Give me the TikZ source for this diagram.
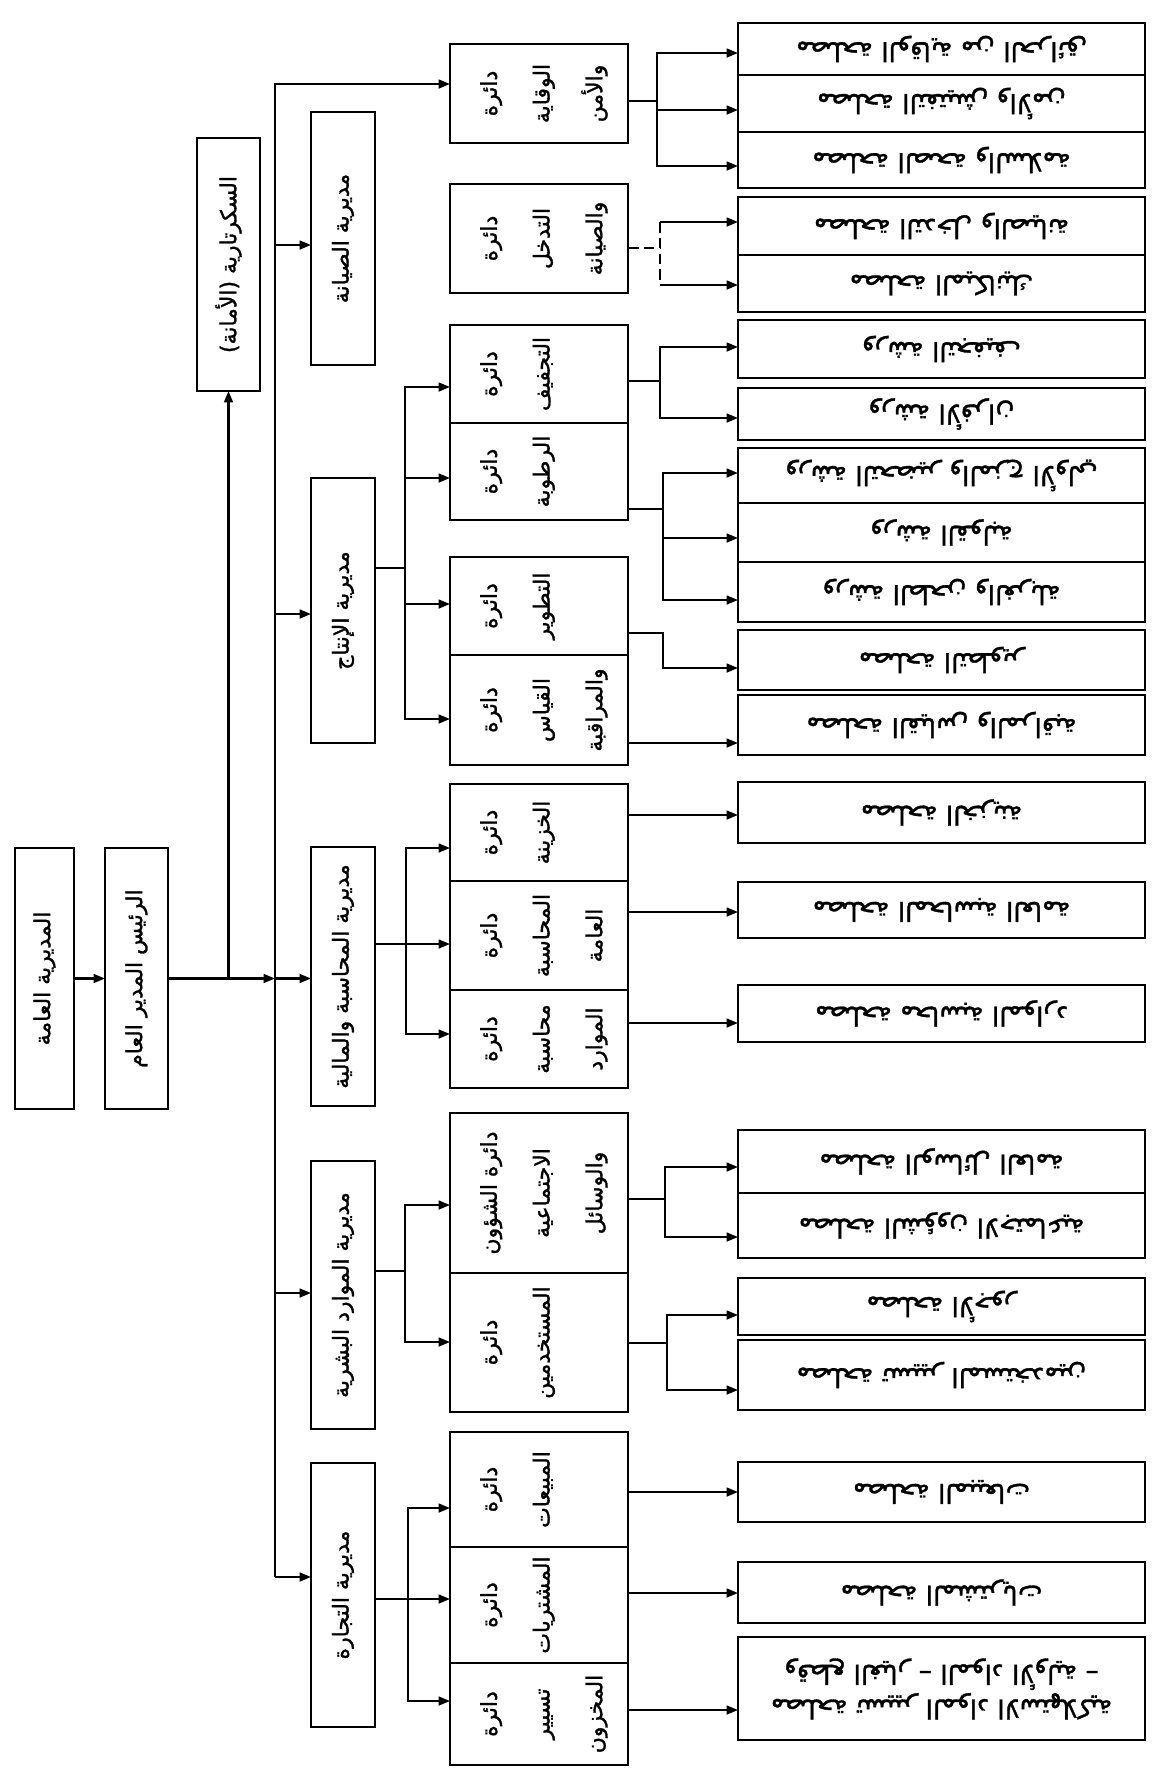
\documentclass[tikz,border=0pt]{standalone}
\usepackage{fontspec}
\usepackage{graphicx}
\usetikzlibrary{arrows.meta}
\TeXXeTstate=1
\newfontfamily\arabicfont[Script=Arabic,FakeBold=1.3]{DejaVu Sans}
\newcommand\artxt[1]{{\arabicfont\beginR #1\endR}}
\newcommand\vlab[1]{\rotatebox{90}{\artxt{#1}}}
\newcommand\vstack[3]{\rotatebox{90}{\renewcommand\arraystretch{2.0}\begin{tabular}{@{}c@{}}\artxt{#1}\\\artxt{#2}\\\artxt{#3}\end{tabular}}}
\newcommand\ulab[1]{\rotatebox{180}{\artxt{#1}}}
\newcommand\bx[7]{\node[box,#6,minimum width={(#4-#2)*0.02cm},minimum height={(#5-#3)*0.02cm}] (#1) at ({(#2+#4)/2},{(#3+#5)/2}) {#7};}
\begin{document}
\begin{tikzpicture}[x=0.02cm, y=-0.02cm, line width=1.3pt,
  box/.style={draw, line width=1.3pt, inner sep=0pt, outer sep=0pt, font=\fontsize{12.5}{15}\selectfont},
  rbox/.style={font=\fontsize{15}{18}\selectfont},
  arr/.style={-{Triangle[length=6.5pt,width=5pt]}},
  arrboth/.style={{Triangle[length=6.5pt,width=5pt]}-{Triangle[length=6.5pt,width=5pt]}},
  dsh/.style={dash pattern=on 6pt off 3pt}]
\fill[white] (0,0) rectangle (1160,1769);
\useasboundingbox (0,0) rectangle (1160,1769);

% left column
\bx{root}{15}{848}{74}{1109}{}{\vlab{المديرية العامة}}
\bx{pres}{105}{848}{168}{1109}{}{\vlab{الرئيس المدير العام}}
\bx{sec}{197}{138}{260}{391}{}{\vlab{السكرتارية (الأمانة)}}
\bx{dsiy}{311}{112}{375}{365}{}{\vlab{مديرية الصيانة}}
\bx{dint}{311}{478}{375}{743}{}{\vlab{مديرية الإنتاج}}
\bx{dmal}{311}{847}{375}{1106}{}{\vlab{مديرية المحاسبة والمالية}}
\bx{dhr}{311}{1161}{375}{1429}{}{\vlab{مديرية الموارد البشرية}}
\bx{dtij}{311}{1463}{375}{1727}{}{\vlab{مديرية التجارة}}

% departments
\bx{wiq}{450}{44}{628}{143}{}{\vstack{دائرة}{الوقاية}{والأمن}}
\bx{tad}{450}{184}{628}{293}{}{\vstack{دائرة}{التدخل}{والصيانة}}
\bx{taj}{450}{325}{628}{423}{}{\vstack{دائرة}{التجفيف}{}}
\bx{rut}{450}{423}{628}{520}{}{\vstack{دائرة}{الرطوبة}{}}
\bx{tat}{450}{557}{628}{655}{}{\vstack{دائرة}{التطوير}{}}
\bx{qiy}{450}{655}{628}{765}{}{\vstack{دائرة}{القياس}{والمراقبة}}
\bx{kha}{450}{784}{628}{881}{}{\vstack{دائرة}{الخزينة}{}}
\bx{muh}{450}{881}{628}{990}{}{\vstack{دائرة}{المحاسبة}{العامة}}
\bx{maw}{450}{990}{628}{1088}{}{\vstack{دائرة}{محاسبة}{الموارد}}
\bx{shu}{450}{1113}{628}{1273}{}{\vstack{دائرة الشؤون}{الاجتماعية}{والوسائل}}
\bx{mus}{450}{1273}{628}{1412}{}{\vstack{دائرة}{المستخدمين}{}}
\bx{mab}{450}{1432}{628}{1547}{}{\vstack{دائرة}{المبيعات}{}}
\bx{msh}{450}{1547}{628}{1663}{}{\vstack{دائرة}{المشتريات}{}}
\bx{mkh}{450}{1663}{628}{1765}{}{\vstack{دائرة}{تسيير}{المخزون}}

% services
\bx{r1}{738}{23}{1145}{75}{rbox}{\ulab{مصلحة الوقاية من الحرائق}}
\bx{r2}{738}{75}{1145}{132}{rbox}{\ulab{مصلحة التفتيش والأمن}}
\bx{r3}{738}{132}{1145}{188}{rbox}{\ulab{مصلحة الصحة والسلامة}}
\bx{r4}{738}{197}{1145}{255}{rbox}{\ulab{مصلحة التدخل والصيانة}}
\bx{r5}{738}{255}{1145}{312}{rbox}{\ulab{مصلحة الميكانيك}}
\bx{r6}{738}{320}{1145}{378}{rbox}{\ulab{ورشة التجفيف}}
\bx{r7}{738}{388}{1145}{440}{rbox}{\ulab{ورشة الأفران}}
\bx{r8}{738}{448}{1145}{503}{rbox}{\ulab{ورشة التحضير والمزج الأولي}}
\bx{r9}{738}{503}{1145}{562}{rbox}{\ulab{ورشة القولبة}}
\bx{r10}{738}{562}{1145}{622}{rbox}{\ulab{ورشة الطحن والغربلة}}
\bx{r11}{738}{630}{1145}{690}{rbox}{\ulab{مصلحة التطوير}}
\bx{r12}{738}{695}{1145}{755}{rbox}{\ulab{مصلحة القياس والمراقبة}}
\bx{r13}{738}{782}{1145}{843}{rbox}{\ulab{مصلحة الخزينة}}
\bx{r14}{738}{882}{1145}{938}{rbox}{\ulab{مصلحة المحاسبة العامة}}
\bx{r15}{738}{985}{1145}{1042}{rbox}{\ulab{مصلحة محاسبة الموارد}}
\bx{r16}{738}{1130}{1145}{1193}{rbox}{\ulab{مصلحة الوسائل العامة}}
\bx{r17}{738}{1193}{1145}{1258}{rbox}{\ulab{مصلحة الشؤون الاجتماعية}}
\bx{r18}{738}{1278}{1145}{1335}{rbox}{\ulab{مصلحة الأجور}}
\bx{r19}{738}{1340}{1145}{1410}{rbox}{\ulab{مصلحة تسيير المستخدمين}}
\bx{r20}{738}{1462}{1145}{1522}{rbox}{\ulab{مصلحة المبيعات}}
\bx{r21}{738}{1562}{1145}{1623}{rbox}{\ulab{مصلحة المشتريات}}
\bx{r22}{738}{1637}{1145}{1740}{rbox}{\rotatebox{180}{\begin{tabular}{@{}c@{}}\artxt{مصلحة تسيير المواد الاستهلاكية}\\\artxt{وقطع الغيار – المواد الأولية –}\end{tabular}}}

% top level connectors
\draw[arr] (root) -- (pres);
\coordinate (tm) at (275,978.5);
\draw[arr] (pres) -- (tm);
\draw[arr] (tm) -- (tm -| dmal.west);
\coordinate (sb) at (228.5,978.5);
\draw[arr] (sb) -- (sec.south);
\coordinate (ttop) at (275,84);
\coordinate (tbot) at (275,1577);
\draw[arr] (tbot) -- (ttop) -- (ttop -| wiq.west);
\draw[arr] (tbot) -- (tbot -| dtij.west);
\coordinate (t1) at (275,245); \draw[arr] (t1) -- (t1 -| dsiy.west);
\coordinate (t2) at (275,614); \draw[arr] (t2) -- (t2 -| dint.west);
\coordinate (t4) at (275,1293); \draw[arr] (t4) -- (t4 -| dhr.west);

% production
\coordinate (p0) at (405,568);
\coordinate (pa) at (405,387); \coordinate (pb) at (405,478);
\coordinate (pc) at (405,604); \coordinate (pd) at (405,719);
\draw (p0 -| dint.east) -- (p0);
\draw[arrboth] (pa -| taj.west) -- (pa) -- (pd) -- (pd -| qiy.west);
\draw[arr] (pb) -- (pb -| rut.west);
\draw[arr] (pc) -- (pc -| tat.west);

% finance
\coordinate (fa) at (406,848); \coordinate (fb) at (406,944); \coordinate (fc) at (406,1034);
\draw[arr] (fb -| dmal.east) -- (fb -| muh.west);
\draw[arrboth] (fa -| kha.west) -- (fa) -- (fc) -- (fc -| maw.west);

% human resources
\coordinate (ha) at (405,1205); \coordinate (hb) at (405,1342); \coordinate (hm) at (405,1271);
\draw (hm -| dhr.east) -- (hm);
\draw[arrboth] (ha -| shu.west) -- (ha) -- (hb) -- (hb -| mus.west);

% commerce
\coordinate (ca) at (408,1508); \coordinate (cb) at (408,1599); \coordinate (cc) at (408,1701);
\draw[arr] (cb -| dtij.east) -- (cb -| msh.west);
\draw[arrboth] (ca -| mab.west) -- (ca) -- (cc) -- (cc -| mkh.west);

% departments to services
\coordinate (w0) at (657,101); \coordinate (w1) at (657,53); \coordinate (w2) at (657,110); \coordinate (w3) at (657,166);
\draw (w0 -| wiq.east) -- (w0);
\draw[arrboth] (w1 -| r1.west) -- (w1) -- (w3) -- (w3 -| r3.west);
\draw[arr] (w2) -- (w2 -| r2.west);

\coordinate (d0) at (660,248); \coordinate (d1) at (660,222); \coordinate (d2) at (660,285);
\draw[dsh] (d0 -| tad.east) -- (d0);
\draw[dsh] (d1) -- (d2);
\draw[arr] (d1) -- (d1 -| r4.west);
\draw[arr] (d2) -- (d2 -| r5.west);

\coordinate (j0) at (660,381); \coordinate (j1) at (660,347); \coordinate (j2) at (660,418);
\draw (j0 -| taj.east) -- (j0);
\draw[arrboth] (j1 -| r6.west) -- (j1) -- (j2) -- (j2 -| r7.west);

\coordinate (u0) at (663,509); \coordinate (u1) at (663,473); \coordinate (u2) at (663,538); \coordinate (u3) at (663,600);
\draw (u0 -| rut.east) -- (u0);
\draw[arrboth] (u1 -| r8.west) -- (u1) -- (u3) -- (u3 -| r10.west);
\draw[arr] (u2) -- (u2 -| r9.west);

\coordinate (v0) at (663,633); \coordinate (v1) at (663,668);
\draw[arr] (v0 -| tat.east) -- (v0) -- (v1) -- (v1 -| r11.west);

\coordinate (q0) at (700,743); \draw[arr] (q0 -| qiy.east) -- (q0 -| r12.west);
\coordinate (k0) at (700,815); \draw[arr] (k0 -| kha.east) -- (k0 -| r13.west);
\coordinate (m0) at (700,912); \draw[arr] (m0 -| muh.east) -- (m0 -| r14.west);
\coordinate (n0) at (700,1023); \draw[arr] (n0 -| maw.east) -- (n0 -| r15.west);

\coordinate (s0) at (665,1199); \coordinate (s1) at (665,1167); \coordinate (s2) at (665,1237);
\draw (s0 -| shu.east) -- (s0);
\draw[arrboth] (s1 -| r16.west) -- (s1) -- (s2) -- (s2 -| r17.west);

\coordinate (e0) at (667,1343); \coordinate (e1) at (667,1315); \coordinate (e2) at (667,1390);
\draw (e0 -| mus.east) -- (e0);
\draw[arrboth] (e1 -| r18.west) -- (e1) -- (e2) -- (e2 -| r19.west);

\coordinate (a0) at (700,1492); \draw[arr] (a0 -| mab.east) -- (a0 -| r20.west);
\coordinate (b0) at (700,1593); \draw[arr] (b0 -| msh.east) -- (b0 -| r21.west);
\coordinate (c0) at (700,1710); \draw[arr] (c0 -| mkh.east) -- (c0 -| r22.west);
\end{tikzpicture}
\end{document}
